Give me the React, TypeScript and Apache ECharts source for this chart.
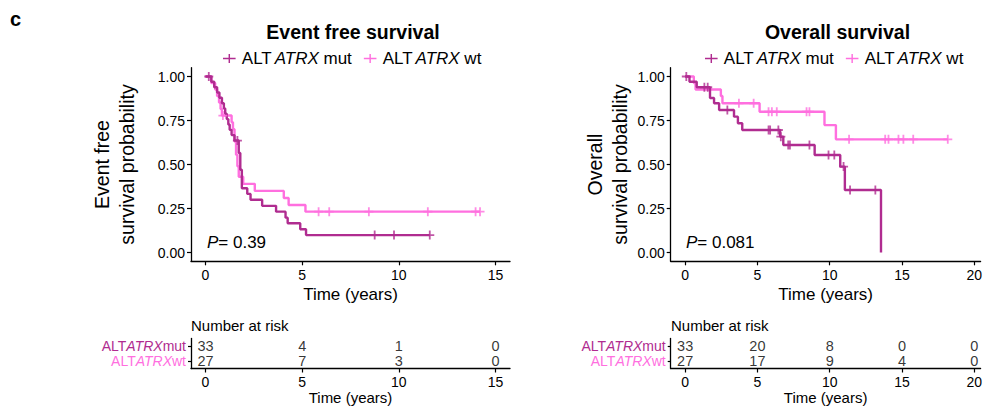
import React, { useEffect, useRef } from "react";
import * as echarts from "echarts";

const FONT = "'Liberation Sans', Arial, Helvetica, sans-serif";
const MUT = "#B02C90";
const WT = "#FF6FDF";

// Event free survival (years, survival probability after each step)
const efsMutTime = [0, 0.3, 0.45, 0.6, 0.72, 0.85, 0.95, 1.02, 1.1, 1.18, 1.25, 1.35, 1.5, 1.72, 1.8, 1.88, 2.16, 2.33, 2.93, 3.65, 4.14, 4.25, 4.9, 5.2, 11.6];
const efsMutSurv = [1, 0.97, 0.939, 0.909, 0.879, 0.848, 0.818, 0.788, 0.758, 0.727, 0.697, 0.667, 0.636, 0.565, 0.47, 0.365, 0.333, 0.3, 0.265, 0.232, 0.198, 0.166, 0.132, 0.099, 0.099];
const efsMutCens = [0.17, 1.65, 8.75, 9.75, 11.6];

const efsWtTime = [0, 0.3, 0.5, 0.6, 0.7, 0.78, 0.85, 1.35, 1.42, 1.5, 1.58, 1.65, 1.72, 1.95, 2.55, 4.05, 4.3, 5.17, 14.2];
const efsWtSurv = [1, 0.963, 0.926, 0.889, 0.852, 0.815, 0.778, 0.74, 0.7, 0.63, 0.555, 0.49, 0.43, 0.39, 0.35, 0.31, 0.27, 0.232, 0.232];
const efsWtCens = [0.9, 5.85, 6.4, 8.45, 11.5, 13.97, 14.2];

// Overall survival
const osMutTime = [0, 0.3, 0.8, 1.72, 2.0, 2.35, 3.38, 3.65, 3.95, 6.57, 6.79, 8.96, 10.73, 11.05, 13.55];
const osMutSurv = [1, 0.97, 0.939, 0.878, 0.848, 0.81, 0.772, 0.734, 0.696, 0.658, 0.611, 0.554, 0.488, 0.355, 0];
const osMutCens = [0.08, 1.33, 1.56, 2.92, 5.77, 5.88, 6.45, 6.62, 7.13, 7.25, 8.6, 9.92, 10.32, 10.96, 11.41, 13.16];

const osWtTime = [0, 0.6, 0.72, 2.47, 2.58, 5.15, 9.64, 10.43, 18.17];
const osWtSurv = [1, 0.963, 0.926, 0.889, 0.848, 0.8, 0.724, 0.643, 0.643];
const osWtCens = [3.72, 4.74, 5.77, 6.0, 6.34, 8.4, 8.6, 11.34, 13.84, 14.07, 14.76, 15.1, 15.78, 18.17];

// Number at risk
const efsRiskTime = [0, 5, 10, 15];
const efsRiskMut = [33, 4, 1, 0];
const efsRiskWt = [27, 7, 3, 0];
const osRiskTime = [0, 5, 10, 15, 20];
const osRiskMut = [33, 20, 8, 0, 0];
const osRiskWt = [27, 17, 9, 4, 0];

const efsTicks = [0, 5, 10, 15];
const osTicks = [0, 5, 10, 15, 20];
const yTicks = [0, 0.25, 0.5, 0.75, 1];
const groupLabels: Record<string, string> = { mut: "ALT{i|ATRX} mut", wt: "ALT{i|ATRX} wt" };

const PLUS = "path://M4,0H6V4H10V6H6V10H4V6H0V4H4Z";
const PLUSLINE = "path://M0,4.1H6.2V0H7.8V4.1H14V5.9H7.8V10H6.2V5.9H0Z";

function survAt(times: number[], survs: number[], t: number) {
  let s = survs[0];
  for (let i = 0; i < times.length; i++) if (times[i] <= t) s = survs[i];
  return s;
}

export default function App() {
  const ref = useRef<HTMLDivElement>(null);
  useEffect(() => {
    document.body.style.margin = "0";
    const chart = echarts.init(ref.current!, null, { renderer: "svg" });
    const axisLine = { show: true, onZero: false, lineStyle: { color: "#000", width: 1.3 } };
    const tickStyle = { color: "#000", width: 1.2 };
    const grids = [
      { left: 191, top: 67.7, width: 319, height: 193.6 },
      { left: 670.7, top: 67.7, width: 314.3, height: 193.6 },
      { left: 191, top: 338.5, width: 319, height: 30 },
      { left: 670.7, top: 338.5, width: 314.3, height: 30 },
    ];
    const mkX = (gi: number, min: number, max: number, ticks: number[], main: boolean) => ({
      gridIndex: gi,
      type: "value",
      min,
      max,
      axisLine,
      axisTick: { show: true, customValues: ticks, length: 4, lineStyle: tickStyle },
      axisLabel: { customValues: ticks, fontSize: 14, color: "#000", fontFamily: FONT, margin: main ? 7 : 6 },
      splitLine: { show: false },
      name: "Time (years)",
      nameLocation: "middle",
      nameGap: main ? 25 : 21,
      nameTextStyle: { fontSize: main ? 17 : 15, color: "#000", fontFamily: FONT },
    });
    const mkY = (gi: number, name: string, gap: number) => ({
      gridIndex: gi,
      type: "value",
      min: -0.05,
      max: 1.05,
      axisLine,
      axisTick: { show: true, customValues: yTicks, length: 4, lineStyle: tickStyle },
      axisLabel: {
        customValues: yTicks,
        formatter: (v: number) => v.toFixed(2),
        fontSize: 14,
        color: "#000",
        fontFamily: FONT,
        margin: 6,
      },
      splitLine: { show: false },
      name,
      nameLocation: "middle",
      nameGap: gap,
      nameTextStyle: { fontSize: 19.5, lineHeight: 25, color: "#000", fontFamily: FONT },
    });
    const mkRiskY = (gi: number) => ({
      gridIndex: gi,
      type: "category",
      data: ["wt", "mut"],
      axisLine: { show: true, onZero: false, lineStyle: { color: "#000", width: 1.3 } },
      axisTick: { show: true, alignWithLabel: true, length: 3, lineStyle: tickStyle },
      axisLabel: {
        interval: 0,
        margin: 5,
        formatter: (v: string) => (v === "mut" ? "{m|ALT}{mi|ATRX}{m|mut}" : "{w|ALT}{wi|ATRX}{w|wt}"),
        rich: {
          m: { color: MUT, fontSize: 14, fontFamily: FONT, lineHeight: 14 },
          mi: { color: MUT, fontSize: 14, fontFamily: FONT, fontStyle: "italic", lineHeight: 14 },
          w: { color: WT, fontSize: 14, fontFamily: FONT, lineHeight: 14 },
          wi: { color: WT, fontSize: 14, fontFamily: FONT, fontStyle: "italic", lineHeight: 14 },
        },
      },
      splitLine: { show: false },
    });
    const stepLine = (name: string, color: string, times: number[], survs: number[], gi: number) => ({
      type: "line",
      name,
      step: "end",
      xAxisIndex: gi,
      yAxisIndex: gi,
      showSymbol: false,
      symbol: "none",
      color,
      lineStyle: { color, width: 2.4 },
      data: times.map((t, i) => [t, survs[i]]),
      z: 2,
    });
    const censor = (name: string, color: string, times: number[], survs: number[], cens: number[], gi: number) => ({
      type: "scatter",
      name,
      xAxisIndex: gi,
      yAxisIndex: gi,
      symbol: PLUS,
      symbolSize: 9,
      itemStyle: { color },
      data: cens.map((t) => [t, survAt(times, survs, t)]),
      z: 3,
    });
    const risk = (times: number[], counts: number[], row: number, gi: number) => ({
      type: "scatter",
      name: "risk",
      xAxisIndex: gi,
      yAxisIndex: gi,
      symbolSize: 1,
      itemStyle: { color: "rgba(0,0,0,0)" },
      label: {
        show: true,
        position: "inside",
        formatter: (p: any) => String(p.value[2]),
        fontSize: 14.5,
        lineHeight: 14,
        color: "#000",
        fontFamily: FONT,
      },
      data: times.map((t, i) => [t, row, counts[i]]),
    });
    const legend = (left: number) => ({
      left,
      top: 45,
      itemWidth: 15,
      itemHeight: 9,
      itemGap: 12,
      selectedMode: false,
      data: [
        { name: "mut", icon: PLUSLINE, itemStyle: { color: MUT } },
        { name: "wt", icon: PLUSLINE, itemStyle: { color: WT } },
      ],
      formatter: (n: string) => groupLabels[n],
      textStyle: {
        fontSize: 17,
        color: "#000",
        fontFamily: FONT,
        rich: { i: { fontSize: 17, fontStyle: "italic", color: "#000", fontFamily: FONT, padding: [0, 0, 0, 3] } },
      },
    });
    const txt = (x: number, y: number, text: string, fontSize: number, extra: any = {}) => ({
      type: "text",
      x,
      y,
      style: { text, fontSize, fontFamily: FONT, fill: "#000", verticalAlign: "middle", ...extra },
    });
    chart.setOption({
      animation: false,
      backgroundColor: "#fff",
      grid: grids,
      xAxis: [
        mkX(0, -0.75, 15.75, efsTicks, true),
        mkX(1, -1, 20.44, osTicks, true),
        mkX(2, -0.75, 15.75, efsTicks, false),
        mkX(3, -1, 20.44, osTicks, false),
      ],
      yAxis: [
        mkY(0, "Event free\nsurvival probability", 52),
        mkY(1, "Overall\nsurvival probability", 38),
        mkRiskY(2),
        mkRiskY(3),
      ],
      legend: [legend(218), legend(700)],
      series: [
        stepLine("wt", WT, efsWtTime, efsWtSurv, 0),
        stepLine("mut", MUT, efsMutTime, efsMutSurv, 0),
        censor("wt", WT, efsWtTime, efsWtSurv, efsWtCens, 0),
        censor("mut", MUT, efsMutTime, efsMutSurv, efsMutCens, 0),
        stepLine("wt", WT, osWtTime, osWtSurv, 1),
        stepLine("mut", MUT, osMutTime, osMutSurv, 1),
        censor("wt", WT, osWtTime, osWtSurv, osWtCens, 1),
        censor("mut", MUT, osMutTime, osMutSurv, osMutCens, 1),
        risk(efsRiskTime, efsRiskMut, 1, 2),
        risk(efsRiskTime, efsRiskWt, 0, 2),
        risk(osRiskTime, osRiskMut, 1, 3),
        risk(osRiskTime, osRiskWt, 0, 3),
      ],
      graphic: [
        txt(10, 19, "c", 20, { fontWeight: "bold" }),
        txt(353, 32, "Event free survival", 19.5, { fontWeight: "bold", align: "center" }),
        txt(837.5, 32, "Overall survival", 19.5, { fontWeight: "bold", align: "center" }),
        txt(207, 242.5, "{i|P}= 0.39", 17, {
          rich: { i: { fontStyle: "italic", fontSize: 17, fontFamily: FONT, fill: "#000" } },
        }),
        txt(686, 242.5, "{i|P}= 0.081", 17, {
          rich: { i: { fontStyle: "italic", fontSize: 17, fontFamily: FONT, fill: "#000" } },
        }),
        txt(191, 325, "Number at risk", 15),
        txt(671, 325, "Number at risk", 15),
      ],
    });
    return () => chart.dispose();
  }, []);
  return <div ref={ref} style={{ width: 985, height: 406 }} />;
}
